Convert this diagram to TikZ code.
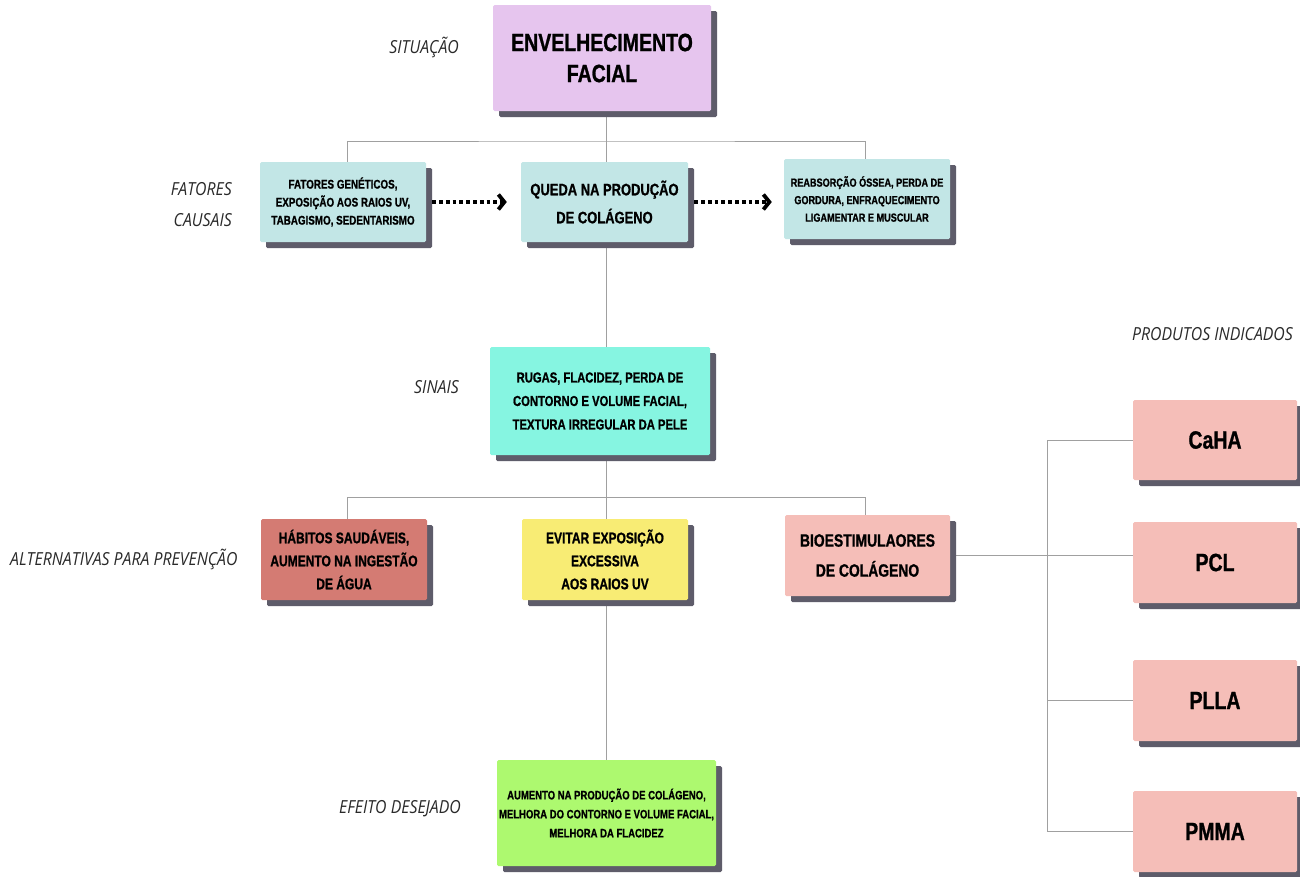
\documentclass[tikz,border=0pt]{standalone}
\usepackage{fontspec}
\newfontfamily\boxfont[FakeStretch=0.78, BoldFeatures={FakeBold=1}]{Liberation Sans}
\newfontfamily\labfont[FakeStretch=0.88]{Open Sans}
\usetikzlibrary{shadows,arrows.meta,backgrounds}
\definecolor{envc}{HTML}{E6C5EE}
\definecolor{cyanc}{HTML}{C2E6E6}
\definecolor{rugc}{HTML}{86F5E1}
\definecolor{habc}{HTML}{D47B73}
\definecolor{evic}{HTML}{F8EC74}
\definecolor{bioc}{HTML}{F5BEB8}
\definecolor{aumc}{HTML}{ADF96F}
\definecolor{shadowc}{HTML}{5E5C6A}
\definecolor{linec}{HTML}{A0A0A0}
\definecolor{labc}{HTML}{2A2A2A}
\begin{document}
\begin{tikzpicture}[x=1pt,y=-1pt,
  box/.style={fill=#1, rounded corners=1.5pt, inner sep=0pt, align=center, text=black,
    drop shadow={shadow xshift=6pt,shadow yshift=-6pt,fill=shadowc,opacity=1}},
  lab/.style={font=\labfont\itshape\fontsize{18}{31}\selectfont, text=labc, align=right, inner sep=0pt},
  conn/.style={draw=linec, line width=0.9pt},
  dotarrow/.style={draw=black, line width=3.8pt, dash pattern=on 3.8pt off 3pt,
    -{Straight Barb[length=6pt,width=15pt,line width=3.8pt]}}
]
\useasboundingbox (0,0) rectangle (1300,876);

% boxes
\node[box=envc, minimum width=218pt, minimum height=106pt, font=\boxfont\bfseries\fontsize{25}{31}\selectfont] (env) at (602,58) {ENVELHECIMENTO\\FACIAL};
\node[box=cyanc, minimum width=166pt, minimum height=80pt, font=\boxfont\bfseries\fontsize{12.6}{18}\selectfont] (fat) at (343,202) {FATORES GENÉTICOS,\\EXPOSIÇÃO AOS RAIOS UV,\\TABAGISMO, SEDENTARISMO};
\node[box=cyanc, minimum width=167pt, minimum height=80pt, font=\boxfont\bfseries\fontsize{16.6}{28}\selectfont] (que) at (604.5,202) {QUEDA NA PRODUÇÃO\\DE COLÁGENO};
\node[box=cyanc, minimum width=166pt, minimum height=80pt, font=\boxfont\bfseries\fontsize{11.7}{17.5}\selectfont] (reab) at (867,199) {REABSORÇÃO ÓSSEA, PERDA DE\\GORDURA, ENFRAQUECIMENTO\\LIGAMENTAR E MUSCULAR};
\node[box=rugc, minimum width=220pt, minimum height=108pt, font=\boxfont\bfseries\fontsize{14.4}{23.5}\selectfont] (rug) at (600,401) {RUGAS, FLACIDEZ, PERDA DE\\CONTORNO E VOLUME FACIAL,\\TEXTURA IRREGULAR DA PELE};
\node[box=habc, minimum width=166pt, minimum height=81pt, font=\boxfont\bfseries\fontsize{15.4}{23}\selectfont] (hab) at (344,559.5) {HÁBITOS SAUDÁVEIS,\\AUMENTO NA INGESTÃO\\DE ÁGUA};
\node[box=evic, minimum width=166pt, minimum height=81pt, font=\boxfont\bfseries\fontsize{15.4}{23}\selectfont] (evi) at (605,559.5) {EVITAR EXPOSIÇÃO\\EXCESSIVA\\AOS RAIOS UV};
\node[box=bioc, minimum width=165pt, minimum height=81pt, font=\boxfont\bfseries\fontsize{17.8}{30}\selectfont] (bio) at (867.5,555.5) {BIOESTIMULAORES\\DE COLÁGENO};
\node[box=aumc, minimum width=219pt, minimum height=106pt, font=\boxfont\bfseries\fontsize{12.2}{19}\selectfont] (aum) at (606.5,813) {AUMENTO NA PRODUÇÃO DE COLÁGENO,\\MELHORA DO CONTORNO E VOLUME FACIAL,\\MELHORA DA FLACIDEZ};
\node[box=bioc, minimum width=164pt, minimum height=80pt, font=\boxfont\bfseries\fontsize{25}{30}\selectfont] (caha) at (1215,440) {CaHA};
\node[box=bioc, minimum width=164pt, minimum height=81pt, font=\boxfont\bfseries\fontsize{25}{30}\selectfont] (pcl) at (1215,562.5) {PCL};
\node[box=bioc, minimum width=164pt, minimum height=81pt, font=\boxfont\bfseries\fontsize{25}{30}\selectfont] (plla) at (1215,700.5) {PLLA};
\node[box=bioc, minimum width=164pt, minimum height=81pt, font=\boxfont\bfseries\fontsize{25}{30}\selectfont] (pmma) at (1215,831.5) {PMMA};

% labels
\node[lab, anchor=east] (l1) at (459,47) {SITUAÇÃO};
\node[lab, anchor=east] (l2) at (232,205) {FATORES\\CAUSAIS};
\node[lab, anchor=east] (l3) at (459,387) {SINAIS};
\node[lab, anchor=west] (l4) at (10,559) {ALTERNATIVAS PARA PREVENÇÃO};
\node[lab, anchor=east] (l5) at (461,809) {EFEITO DESEJADO};
\node[lab, anchor=west] (l6) at (1132,334) {PRODUTOS INDICADOS};

% connectors
\coordinate (t1) at (607,141);
\coordinate (t2) at (607,497);
\coordinate (vx) at (1047,0);
\begin{scope}[on background layer]
\fill[white] (0,0) rectangle (1300,876);
\draw[conn] (aum.north) -- (aum.north |- env.south);
\draw[conn] ([xshift=4pt]fat.north) |- (t1) -| ([xshift=-2pt]reab.north);
\draw[conn] ([xshift=3pt]hab.north) |- (t2) -| ([xshift=-2pt]bio.north);
\draw[conn] (bio.east) -- (bio.east -| pcl.west);
\draw[conn] (caha.west) -| (vx |- pmma.west) -- (pmma.west);
\draw[conn] (plla.west) -- (plla.west -| vx);
\end{scope}
\draw[dotarrow, shorten <=6pt, shorten >=14pt] (fat.east) -- (que.west);
\draw[dotarrow, shorten <=6pt, shorten >=12pt] (que.east |- fat.east) -- (reab.west |- fat.east);
\end{tikzpicture}
\end{document}
